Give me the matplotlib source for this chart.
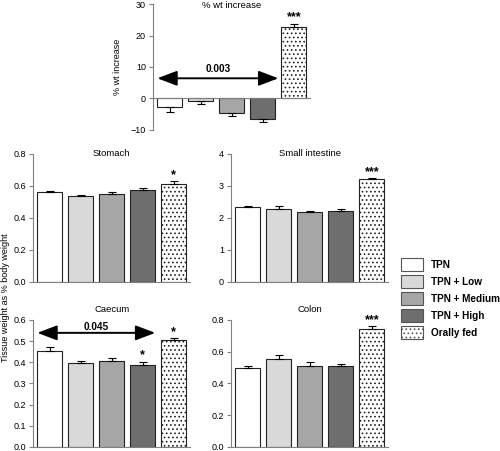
import matplotlib
matplotlib.use("Agg")
import matplotlib.pyplot as plt
from matplotlib.patches import Patch

plt.rcParams['font.family'] = ['Liberation Sans', 'DejaVu Sans']
plt.rcParams['hatch.linewidth'] = 0.7

groups = ["TPN", "TPN + Low", "TPN + Medium", "TPN + High", "Orally fed"]
colors = ["white", "#d9d9d9", "#a6a6a6", "#6e6e6e", "white"]
hatches = [None, None, None, None, "...."]

wt_vals = [-2.8, -0.9, -4.6, -6.6, 22.8]
wt_err = [1.5, 0.9, 1.0, 0.9, 1.0]
wt_stars = ["", "", "", "", "***"]

stomach_vals = [0.56, 0.535, 0.547, 0.573, 0.614]
stomach_err = [0.008, 0.01, 0.012, 0.012, 0.014]
stomach_stars = ["", "", "", "", "*"]

si_vals = [2.33, 2.28, 2.18, 2.22, 3.20]
si_err = [0.05, 0.08, 0.03, 0.06, 0.04]
si_stars = ["", "", "", "", "***"]

caecum_vals = [0.453, 0.397, 0.406, 0.386, 0.505]
caecum_err = [0.018, 0.008, 0.015, 0.016, 0.008]
caecum_stars = ["", "", "", "*", "*"]

colon_vals = [0.495, 0.556, 0.513, 0.51, 0.745]
colon_err = [0.015, 0.025, 0.025, 0.014, 0.016]
colon_stars = ["", "", "", "", "***"]

TICK_FS = 6.5


def bar_panel(ax, vals, errs, stars, ylim, yticks, ticklabels, title, star_off, title_y=1.0):
    x = list(range(len(vals)))
    for i, v in enumerate(vals):
        ax.bar(x[i], v, width=0.8, color=colors[i], edgecolor="#222222",
               linewidth=0.8, hatch=hatches[i], zorder=2)
        # error bar only on the outer side of the bar
        yerr = [[0], [errs[i]]] if v >= 0 else [[errs[i]], [0]]
        ax.errorbar(x[i], v, yerr=yerr, fmt="none", ecolor="black",
                    elinewidth=0.8, capsize=3, capthick=0.8, zorder=3)
        if stars[i]:
            ax.text(x[i], v + errs[i] + star_off, stars[i], ha="center", va="bottom",
                    fontsize=9, fontweight="bold")
    ax.set_xlim(-0.54, 4.52)
    ax.set_ylim(*ylim)
    ax.set_yticks(yticks)
    ax.set_yticklabels(ticklabels)
    ax.set_xticks([])
    for s in ["top", "right"]:
        ax.spines[s].set_visible(False)
    ax.spines["bottom"].set_position(("data", 0))
    ax.spines["bottom"].set_color("#808080")
    ax.spines["left"].set_color("#808080")
    ax.tick_params(axis="y", labelsize=TICK_FS, length=3, width=0.8, color="#808080", pad=2)
    ax.text(2.0, title_y, title, transform=ax.get_xaxis_transform(),
            ha="center", va="center", fontsize=6.8)


def arrow(ax, y, x0, x1, label, ty):
    ax.annotate("", xy=(x0, y), xytext=(x1, y),
                arrowprops=dict(arrowstyle="<|-|>,head_length=1.0,head_width=0.38",
                                color="black", lw=1.4, mutation_scale=12,
                                shrinkA=0, shrinkB=0))
    ax.text((x0 + x1) / 2, ty, label, ha="center", va="center", fontsize=7.2, fontweight="bold")


fig = plt.figure(figsize=(5.0, 4.51), dpi=100)

ax_top = fig.add_axes([0.306, 0.712, 0.314, 0.279])
bar_panel(ax_top, wt_vals, wt_err, wt_stars, (-10, 30), [-10, 0, 10, 20, 30],
          ["\u221210", "0", "10", "20", "30"], "% wt increase", 0.2, title_y=0.99)
ax_top.set_ylabel("% wt increase", fontsize=6.5, labelpad=6)
arrow(ax_top, 6.4, -0.4, 3.5, "0.003", 9.4)

ax_st = fig.add_axes([0.066, 0.375, 0.314, 0.284])
bar_panel(ax_st, stomach_vals, stomach_err, stomach_stars, (0, 0.8), [0, 0.2, 0.4, 0.6, 0.8],
          ["0.0", "0.2", "0.4", "0.6", "0.8"], "Stomach", 0.002)

ax_si = fig.add_axes([0.462, 0.375, 0.314, 0.284])
bar_panel(ax_si, si_vals, si_err, si_stars, (0, 4), [0, 1, 2, 3, 4],
          ["0", "1", "2", "3", "4"], "Small intestine", 0.01)

ax_ca = fig.add_axes([0.066, 0.009, 0.314, 0.2816])
bar_panel(ax_ca, caecum_vals, caecum_err, caecum_stars, (0, 0.6),
          [0, 0.1, 0.2, 0.3, 0.4, 0.5, 0.6],
          ["0.0", "0.1", "0.2", "0.3", "0.4", "0.5", "0.6"], "Caecum", 0.002, title_y=1.08)
arrow(ax_ca, 0.539, -0.4, 3.4, "0.045", 0.567)

ax_co = fig.add_axes([0.462, 0.009, 0.314, 0.2816])
bar_panel(ax_co, colon_vals, colon_err, colon_stars, (0, 0.8), [0, 0.2, 0.4, 0.6, 0.8],
          ["0.0", "0.2", "0.4", "0.6", "0.8"], "Colon", 0.002, title_y=1.08)

fig.text(0.011, 0.341, "Tissue weight as % body weight", rotation=90,
         ha="center", va="center", fontsize=6.5)

handles = [Patch(facecolor=colors[i], edgecolor="#555555", hatch=hatches[i], linewidth=0.8)
           for i in range(len(groups))]
fig.legend(handles, groups, loc="upper left", bbox_to_anchor=(0.802, 0.428),
           frameon=False, prop={"size": 7.2, "weight": "bold"}, handlelength=2.2,
           handleheight=1.7, labelspacing=0.35, handletextpad=0.8,
           borderpad=0, borderaxespad=0)

fig.savefig("out.png", dpi=100)
